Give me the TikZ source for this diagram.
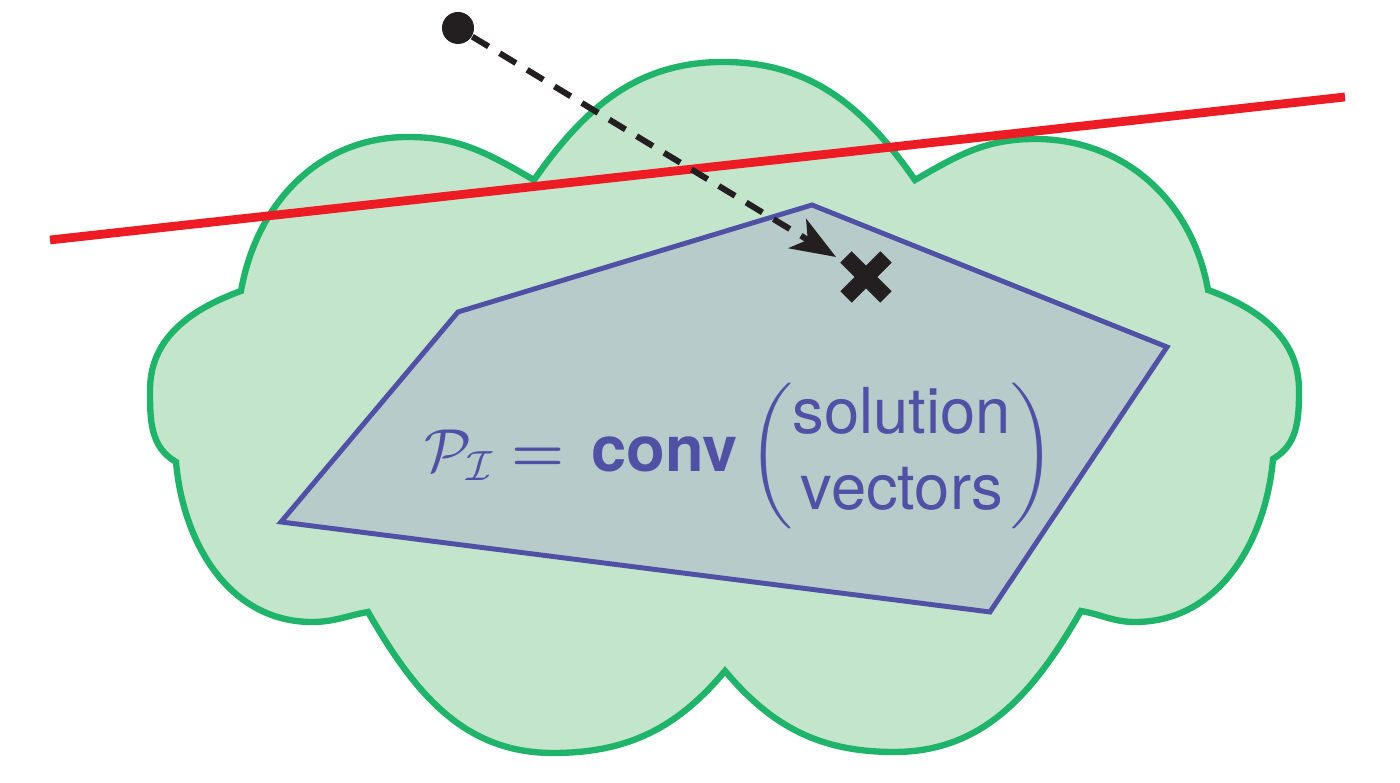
\documentclass[tikz,border=0pt]{standalone}
\usepackage{amsmath}
\usepackage{fontspec}
\setsansfont{TeX Gyre Heros}
\usetikzlibrary{arrows.meta}

\definecolor{cloudfill}{RGB}{194,229,204}
\definecolor{cloudline}{RGB}{31,180,106}
\definecolor{polyfill}{RGB}{183,203,202}
\definecolor{polyline}{RGB}{80,80,165}
\definecolor{cutred}{RGB}{237,28,36}
\definecolor{pointblack}{RGB}{35,31,32}

\begin{document}
\begin{tikzpicture}[
    x=0.01cm, y=0.01cm,
    cloud/.style={draw=cloudline, fill=cloudfill, line width=1.8pt},
    hull/.style={draw=polyline, fill=polyfill, line width=1.4pt, line join=miter},
    cut/.style={draw=cutred, line width=2.5pt},
    move/.style={draw=pointblack, line width=1.7pt, dash pattern=on 0.19cm off 0.13cm, -{Stealth[length=4.5mm, width=3.4mm, inset=1.2mm]}},
    crossmark/.style={draw=pointblack, line width=0.16cm},
    label/.style={font=\sffamily\fontsize{18}{21.6}\selectfont, text=polyline}
]
\useasboundingbox (0,0) rectangle (1400,783);

% ============ CLOUD (INTEGER HULL REGION) ============
\path[cloud]
    (241,492) to[out=80, in=180] (408,646)
    to[out=0, in=150] (534,603)
    to[out=55, in=180] (723,721)
    to[out=0, in=125] (915,603)
    to[out=30, in=180] (1035,644)
    to[out=0, in=100] (1208,493)
    to[out=-20, in=90] (1299,393)
    to[out=-90, in=30] (1273,324)
    to[out=-95, in=0] (1135,161)
    to[out=180, in=-10] (1081,172)
    to[out=-120, in=0] (894,31)
    to[out=180, in=-50] (725,112)
    to[out=-130, in=0] (553,30)
    to[out=180, in=-60] (368,171)
    to[out=190, in=0] (312,161)
    to[out=180, in=-85] (176,321)
    to[out=150, in=-90] (150,393)
    to[out=90, in=200] (241,492)
    -- cycle;

% ============ CUTTING PLANE ============
\coordinate (cutleft) at (50,543);
\coordinate (cutright) at (1345,686);
\draw[cut] (cutleft) -- (cutright);

% ============ POLYTOPE ============
\coordinate (v1) at (458,471);
\coordinate (v2) at (812,578);
\coordinate (v3) at (1167,436);
\coordinate (v4) at (990,171);
\coordinate (v5) at (281,261);
\path[hull] (v1) -- (v2) -- (v3) -- (v4) -- (v5) -- cycle;

\node[label] (hulltext) at (740,327)
    {$\mathcal{P}_{\mathcal{I}} \mathrel{\boldsymbol{=}} \,\textbf{conv}\left(\begin{array}{@{}c@{}}\text{solution}\\ \text{vectors}\end{array}\right)$};

% ============ POINT AND ITS MOVE ============
\node[circle, fill=pointblack, inner sep=0pt, minimum size=0.32cm] (start) at (458,755) {};
\coordinate (tip) at (836,526);
\draw[move] (start) -- (tip);

% Target cross
\coordinate (target) at (866,506);
\draw[crossmark] (target) ++(-20,-20) -- ++(40,40) ++(0,-40) -- ++(-40,40);

\end{tikzpicture}
\end{document}
